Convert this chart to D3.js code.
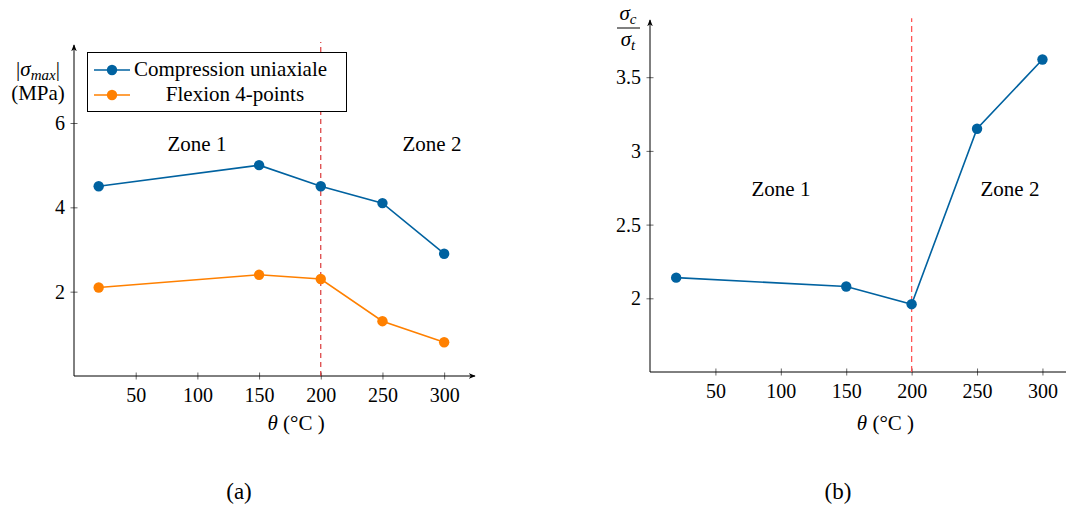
<!DOCTYPE html>
<html><head><meta charset="utf-8">
<script src="https://cdn.jsdelivr.net/npm/d3@7"></script>
<style>body{margin:0;background:#fff}</style>
</head><body><svg id="c" width="1066" height="508" font-family="'Liberation Serif', 'DejaVu Serif', serif"></svg>
<script>
const temps = [20, 150, 200, 250, 300];
const compression = [4.5, 5.0, 4.5, 4.1, 2.9];
const flexion = [2.1, 2.4, 2.3, 1.3, 0.8];
const ratio = [2.14, 2.08, 1.96, 3.15, 3.62];
const xTicks = [50, 100, 150, 200, 250, 300];
const yTicksA = [2, 4, 6];
const yTicksB = [2, 2.5, 3, 3.5];
const seriesNames = ["Compression uniaxiale", "Flexion 4-points"];
const blue = "#0062a0", orange = "#ff8000";
const FONT = "'Liberation Serif', 'DejaVu Serif', serif";

const svg = d3.select("#c");
const FS = 20, FL = 21;

svg.append("defs").append("marker").attr("id","arr").attr("viewBox","0 0 10 10")
  .attr("refX",9).attr("refY",5).attr("markerWidth",7).attr("markerHeight",7).attr("orient","auto-start-reverse")
  .append("path").attr("d","M0,1 L10,5 L0,9 L3,5 Z").attr("fill","#000");

function axes(g, x, y, xTicks, yTicks, yFmt, xEnd, yEnd, arrowX) {
  const [x0] = x.range(); const y0 = y.range()[0];
  const xl = g.append("line").attr("x1", x0).attr("x2", x(xEnd)).attr("y1", y0).attr("y2", y0)
    .attr("stroke","#000").attr("stroke-width",1);
  if (arrowX) xl.attr("marker-end","url(#arr)");
  g.append("line").attr("x1", x0).attr("x2", x0).attr("y1", y0).attr("y2", y(yEnd))
    .attr("stroke","#000").attr("stroke-width",1).attr("marker-end","url(#arr)");
  const xa = g.append("g").attr("transform",`translate(0,${y0})`)
    .call(d3.axisBottom(x).tickValues(xTicks).tickSize(0).tickPadding(12).tickFormat(d3.format("d")));
  xa.attr("font-family", FONT).attr("font-size", FS);
  xa.select(".domain").remove();
  xa.selectAll("text").attr("fill","#000");
  xa.selectAll(".tick").append("line").attr("y1",-3.5).attr("y2",3.5).attr("stroke","#000").attr("stroke-width",0.6);
  const ya = g.append("g").attr("transform",`translate(${x0},0)`)
    .call(d3.axisLeft(y).tickValues(yTicks).tickSize(0).tickPadding(9).tickFormat(yFmt));
  ya.attr("font-family", FONT).attr("font-size", FS);
  ya.select(".domain").remove();
  ya.selectAll("text").attr("fill","#000");
  ya.selectAll(".tick").append("line").attr("x1",-3.5).attr("x2",3.5).attr("stroke","#000").attr("stroke-width",0.6);
}

function series(g, x, y, vals, color) {
  const pts = temps.map((t,i)=>[t, vals[i]]);
  g.append("path").datum(pts).attr("fill","none").attr("stroke",color).attr("stroke-width",1.6)
    .attr("d", d3.line().x(d=>x(d[0])).y(d=>y(d[1])));
  g.selectAll(null).data(pts).enter().append("circle")
    .attr("cx",d=>x(d[0])).attr("cy",d=>y(d[1])).attr("r",5.2).attr("fill",color);
}
function txt(g, x, y, s, anchor="middle", size=FL) {
  return g.append("text").attr("x",x).attr("y",y).attr("text-anchor",anchor)
    .attr("font-family",FONT).attr("font-size",size).attr("fill","#000").text(s);
}

// ---- Chart (a)
const gA = svg.append("g");
const xA = d3.scaleLinear().domain([0, 325]).range([74, 475]);
const yA = d3.scaleLinear().domain([0, 7.85]).range([376, 45]);
axes(gA, xA, yA, xTicks, yTicksA, d3.format("d"), 325, 7.85, true);
gA.append("line").attr("x1",xA(200)).attr("x2",xA(200)).attr("y1",yA(0)).attr("y2",yA(7.92))
  .attr("stroke","#d62728").attr("stroke-width",1.1).attr("stroke-dasharray","5,4");
series(gA, xA, yA, compression, blue);
series(gA, xA, yA, flexion, orange);
txt(gA, 197, 151, "Zone 1");
txt(gA, 432, 151, "Zone 2");
const ylA = txt(gA, 38, 76, "");
ylA.append("tspan").text("|");
ylA.append("tspan").attr("font-style","italic").text("σ");
ylA.append("tspan").attr("font-style","italic").attr("font-size",15).attr("dy",4).text("max");
ylA.append("tspan").attr("dy",-4).text("|");
txt(gA, 38, 100, "(MPa)");
const xlA = txt(gA, xA(180), 430, "");
xlA.append("tspan").attr("font-style","italic").text("θ");
xlA.append("tspan").text(" (°C )");
const lg = gA.append("g");
lg.append("rect").attr("x",87.5).attr("y",52.5).attr("width",259).attr("height",59).attr("fill","#fff").attr("stroke","#000").attr("stroke-width",1);
[[blue,70,134,"start"],[orange,95,235,"middle"]].forEach(([c,yy,tx,anc],i)=>{
  lg.append("line").attr("x1",94).attr("x2",130).attr("y1",yy).attr("y2",yy).attr("stroke",c).attr("stroke-width",1.6);
  lg.append("circle").attr("cx",112).attr("cy",yy).attr("r",5.2).attr("fill",c);
  txt(lg, tx, yy+6, seriesNames[i], anc);
});
txt(svg, 239, 499, "(a)", "middle", 23);

// ---- Chart (b)
const gB = svg.append("g");
const xB = d3.scaleLinear().domain([0, 318]).range([650, 1066]);
const yB = d3.scaleLinear().domain([1.5, 3.888]).range([372, 20]);
axes(gB, xB, yB, xTicks, yTicksB, d=>String(d), 318, 3.888, false);
gB.append("line").attr("x1",xB(200)).attr("x2",xB(200)).attr("y1",yB(1.5)).attr("y2",yB(3.9))
  .attr("stroke","#ff5555").attr("stroke-width",1.3).attr("stroke-dasharray","6,4");
series(gB, xB, yB, ratio, blue);
txt(gB, 781, 196, "Zone 1");
txt(gB, 1010, 196, "Zone 2");
const num = txt(gB, 628, 20, "");
num.append("tspan").attr("font-style","italic").text("σ");
num.append("tspan").attr("font-style","italic").attr("font-size",15).attr("dy",4).text("c");
gB.append("line").attr("x1",617).attr("x2",640).attr("y1",28).attr("y2",28).attr("stroke","#000").attr("stroke-width",1);
const den = txt(gB, 628, 46, "");
den.append("tspan").attr("font-style","italic").text("σ");
den.append("tspan").attr("font-style","italic").attr("font-size",15).attr("dy",4).text("t");
const xlB = txt(gB, xB(180), 430, "");
xlB.append("tspan").attr("font-style","italic").text("θ");
xlB.append("tspan").text(" (°C )");
txt(svg, 838, 499, "(b)", "middle", 23);
</script></body></html>
